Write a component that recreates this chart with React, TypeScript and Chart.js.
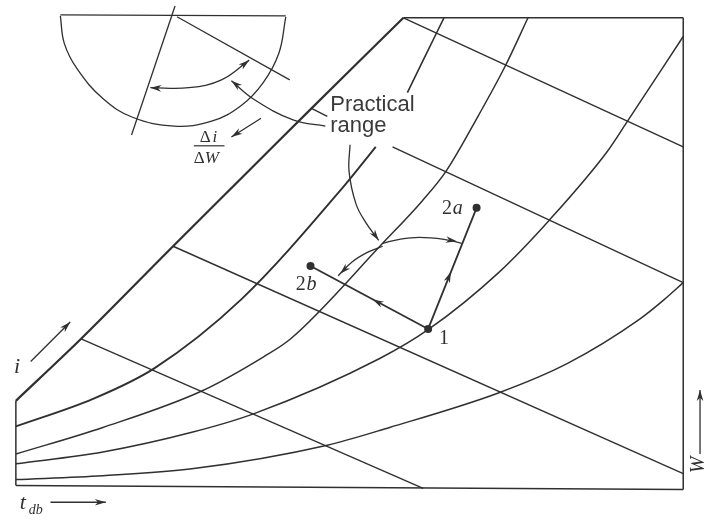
import React, { useEffect, useRef } from "react";
import { Chart, registerables } from "chart.js";

Chart.register(...registerables);

type P = [number, number];

// ---- chart frame ----
const frameTop: P[] = [[404, 14], [687, 14]];
const frameRight: P[] = [[687, 14], [687, 493]];
const frameBottom: P[] = [[12, 489], [687, 493]];
const frameLeft: P[] = [[12, 403], [12, 489]];

// ---- saturation and relative-humidity curves ----
const saturation: P[] = [[12, 403], [78, 340], [171, 246], [240, 177], [311, 106], [404, 14]];
const rh1Lower: P[] = [[12, 429], [90, 401], [152, 370], [240, 300], [343, 186], [376, 145]];
const rh1Upper: P[] = [[408, 90], [425, 55], [445, 14]];
const rh2: P[] = [[12, 457], [100, 430], [200, 393], [263, 358], [290, 340], [383, 243], [423, 200], [447, 170], [480, 113], [507, 63], [530, 14]];
const rh3: P[] = [[12, 467], [100, 455], [190, 435], [253, 416], [380, 360], [430, 330], [500, 273], [552, 219], [610, 150], [630, 120], [687, 33]];
const rh4: P[] = [[12, 483], [100, 479], [190, 472], [327, 448], [390, 430], [500, 395], [570, 365], [643, 320], [668, 300], [687, 283]];

// ---- enthalpy lines ----
const enth1: P[] = [[404, 14], [687, 145]];
const enth2a: P[] = [[311, 106], [327, 114]];
const enth2b: P[] = [[393, 145], [687, 283]];
const enth3: P[] = [[171, 246], [687, 477]];
const enth4: P[] = [[78, 340], [424, 492]];

// ---- processes ----
const state1: P = [429, 330];
const state2a: P = [478, 207];
const state2b: P = [310, 266];
const processA: P[] = [state1, state2a];
const processB: P[] = [state1, state2b];
const statePoints: P[] = [state1, state2a, state2b];

// ---- practical range arcs ----
const rangeDown: P[] = [[350, 143], [349, 170], [356, 203], [366, 222], [379, 240]];
const rangeRight: P[] = [[383, 243], [400, 239], [420, 237], [445, 239], [463, 243]];
const rangeLeft: P[] = [[383, 246], [368, 252], [352, 262], [338, 276]];
const rangeToProtractor: P[] = [[325, 124], [293, 118], [253, 97], [230, 78]];

// ---- protractor ----
const protractorTop: P[] = [[57, 11], [285, 12]];
const protractorArc: P[] = [[57, 12], [61, 40], [74, 66], [100, 96], [130, 115], [172, 124], [210, 119], [240, 103], [262, 80], [278, 50], [285, 13]];
const protractorRay1: P[] = [[173, 2], [129, 133]];
const protractorRay2: P[] = [[175, 13], [289, 77]];
const protractorSweep: P[] = [[148, 85], [187, 85], [220, 77], [248, 57]];
const slopeArrow: P[] = [[260, 116], [230, 135]];

// ---- axis arrows ----
const iArrow: P[] = [[27, 363], [67, 323]];
const tArrow: P[] = [[47, 506], [103, 506]];
const wArrow: P[] = [[704, 457], [704, 392]];

// arrow heads: [tip, from]
const arrowHeads: [P, P][] = [
  [[452, 272], state1],
  [[373, 300], state1],
  [[379, 240], [366, 222]],
  [[458, 241], [440, 238]],
  [[340, 274], [352, 262]],
  [[230, 78], [245, 90]],
  [[148, 85], [165, 86]],
  [[248, 57], [238, 65]],
  [[230, 135], [260, 116]],
  [[67, 323], [27, 363]],
  [[103, 506], [47, 506]],
  [[704, 392], [704, 457]],
];

const INK = "#303030";
const SERIF = '"Liberation Serif", "DejaVu Serif", serif';
const SANS = '"Liberation Sans", Arial, sans-serif';

function line(data: P[], width = 1.4, tension = 0, mono = false) {
  return {
    data: data.map(([x, y]) => ({ x, y })),
    showLine: true,
    borderColor: INK,
    borderWidth: width,
    pointRadius: 0,
    tension,
    cubicInterpolationMode: mono ? "monotone" : "default",
    fill: false,
  } as any;
}

const overlay = {
  id: "overlay",
  afterDatasetsDraw(chart: any) {
    const { ctx, scales } = chart;
    const sx = scales.x, sy = scales.y;
    const px = (p: P): P => [sx.getPixelForValue(p[0]), sy.getPixelForValue(p[1])];
    ctx.save();
    ctx.fillStyle = INK;
    ctx.strokeStyle = INK;
    for (const [tipV, fromV] of arrowHeads) {
      const t = px(tipV), f = px(fromV);
      let dx = t[0] - f[0], dy = t[1] - f[1];
      const L = Math.hypot(dx, dy) || 1;
      dx /= L; dy /= L;
      const len = 11, hw = 3.3;
      const bx = t[0] - dx * len, by = t[1] - dy * len;
      ctx.beginPath();
      ctx.moveTo(t[0], t[1]);
      ctx.lineTo(bx - dy * hw, by + dx * hw);
      ctx.lineTo(t[0] - dx * len * 0.7, t[1] - dy * len * 0.7);
      ctx.lineTo(bx + dy * hw, by - dx * hw);
      ctx.closePath();
      ctx.fill();
    }
    const text = (s: string, p: P, font: string, align: CanvasTextAlign = "left") => {
      const q = px(p);
      ctx.font = font;
      ctx.textAlign = align;
      ctx.textBaseline = "alphabetic";
      ctx.fillText(s, q[0], q[1]);
    };
    // Practical range
    ctx.fillStyle = "#3a3a3a";
    text("Practical", [330, 109], `22px ${SANS}`);
    text("range", [330, 130], `22px ${SANS}`);
    ctx.fillStyle = INK;
    // Δi / ΔW
    text("Δ", [198, 140], `17px ${SERIF}`);
    text("i", [211, 140], `italic 17px ${SERIF}`);
    const b1 = px([192, 144]), b2 = px([223, 144]);
    ctx.lineWidth = 1.2;
    ctx.beginPath();
    ctx.moveTo(b1[0], b1[1]);
    ctx.lineTo(b2[0], b2[1]);
    ctx.stroke();
    text("Δ", [192, 161], `17px ${SERIF}`);
    text("W", [203, 161], `italic 17px ${SERIF}`);
    // state labels
    text("2", [443, 213], `20px ${SERIF}`);
    text("a", [454, 213], `italic 20px ${SERIF}`);
    text("2", [295, 290], `20px ${SERIF}`);
    text("b", [306, 290], `italic 20px ${SERIF}`);
    text("1", [440, 345], `20px ${SERIF}`);
    // axis labels
    text("i", [10, 375], `italic 22px ${SERIF}`);
    text("t", [16, 513], `italic 22px ${SERIF}`);
    text("db", [25, 518], `italic 14px ${SERIF}`);
    const w = px([703, 468]);
    ctx.save();
    ctx.translate(w[0], w[1]);
    ctx.rotate(-Math.PI / 2);
    ctx.font = `italic 20px ${SERIF}`;
    ctx.textAlign = "center";
    ctx.textBaseline = "middle";
    ctx.fillText("W", 0, 0);
    ctx.restore();
    ctx.restore();
  },
};

export default function App() {
  const ref = useRef<HTMLCanvasElement>(null);
  useEffect(() => {
    if (!ref.current) return;
    const chart = new Chart(ref.current, {
      type: "scatter",
      data: {
        datasets: [
          line(frameTop, 1.5),
          line(frameRight, 1.5),
          line(frameBottom, 1.5),
          line(frameLeft, 1.5),
          line(saturation, 2.2, 0.3),
          line(rh1Lower, 1.9, 0, true),
          line(rh1Upper, 1.6, 0, true),
          line(rh2, 1.5, 0, true),
          line(rh3, 1.5, 0, true),
          line(rh4, 1.5, 0, true),
          line(enth1, 1.4),
          line(enth2a, 1.4),
          line(enth2b, 1.4),
          line(enth3, 1.4),
          line(enth4, 1.4),
          line(processA, 1.8),
          line(processB, 1.8),
          line(rangeDown, 1.3, 0.4),
          line(rangeRight, 1.3, 0.4),
          line(rangeLeft, 1.3, 0.4),
          line(rangeToProtractor, 1.3, 0.4),
          line(protractorTop, 1.3),
          line(protractorArc, 1.3, 0.4),
          line(protractorRay1, 1.3),
          line(protractorRay2, 1.3),
          line(protractorSweep, 1.3, 0.4),
          line(slopeArrow, 1.3),
          line(iArrow, 1.3),
          line(tArrow, 1.3),
          line(wArrow, 1.3),
          {
            data: statePoints.map(([x, y]) => ({ x, y })),
            showLine: false,
            pointRadius: 4,
            pointBackgroundColor: INK,
            pointBorderColor: INK,
            pointBorderWidth: 0,
          } as any,
        ],
      },
      options: {
        animation: false,
        responsive: false,
        maintainAspectRatio: false,
        devicePixelRatio: 1,
        layout: { padding: 0 },
        plugins: { legend: { display: false }, tooltip: { enabled: false } },
        events: [],
        scales: {
          x: { type: "linear", min: 0, max: 707, display: false },
          y: { type: "linear", min: 0, max: 523, reverse: true, display: false },
        },
      },
      plugins: [overlay],
    });
    return () => chart.destroy();
  }, []);
  return (
    <div style={{ position: "absolute", left: 0, top: 0, width: 707, height: 523, background: "#fff" }}>
      <canvas ref={ref} width={707} height={523} style={{ width: 707, height: 523, display: "block" }} />
    </div>
  );
}
